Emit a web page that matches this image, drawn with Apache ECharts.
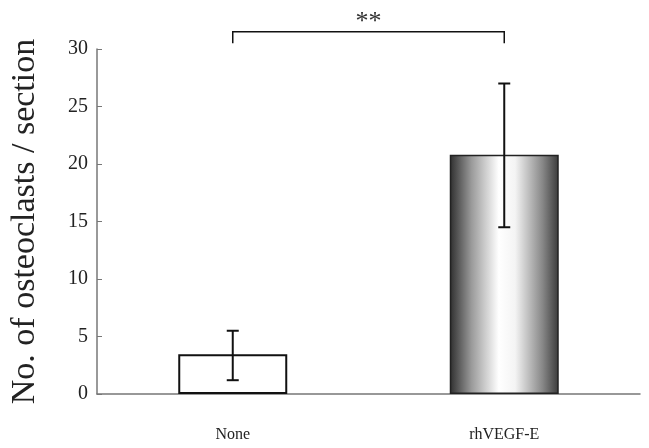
<!DOCTYPE html>
<html><head><meta charset="utf-8">
<script src="https://cdn.jsdelivr.net/npm/echarts@6/dist/echarts.min.js"></script>
<style>html,body{margin:0;padding:0;background:#fff}#c{width:649px;height:448px}</style>
</head><body><div id="c"></div>
<script>
const categories = ['None', 'rhVEGF-E'];
const means = [3.45, 20.8];
const errLow = [1.2, 14.5];
const errHigh = [5.5, 27.0];
const yTicks = [0, 5, 10, 15, 20, 25, 30];
const bracketY = 31.5;
const bracketDrop = 1.0;
const sigLabel = '**';

const chart = echarts.init(document.getElementById('c'));
const serif = '"Liberation Serif", "DejaVu Serif", serif';
const errData = categories.map((c, i) => [i, errLow[i], errHigh[i]]);

chart.setOption({
  animation: false,
  backgroundColor: '#fff',
  grid: { left: 97, right: 9, top: 49, bottom: 54 },
  xAxis: {
    type: 'category', data: categories,
    axisLine: { lineStyle: { color: '#777', width: 1.5 } },
    axisTick: { show: false },
    axisLabel: { fontFamily: serif, fontSize: 16, color: '#222', margin: 33 }
  },
  yAxis: {
    type: 'value', min: yTicks[0], max: yTicks[yTicks.length - 1], interval: 5,
    name: 'No. of osteoclasts / section', nameLocation: 'middle', nameGap: 55,
    nameTextStyle: { fontFamily: serif, fontSize: 34, color: '#222' },
    axisLine: { show: true, lineStyle: { color: '#777', width: 1.5 } },
    axisTick: { show: true, inside: true, length: 5, lineStyle: { color: '#777' } },
    splitLine: { show: false },
    axisLabel: { fontFamily: serif, fontSize: 20, color: '#222', margin: 9 }
  },
  series: [
    {
      type: 'bar', barWidth: 109,
      data: means.map((v, i) => ({
        value: v,
        itemStyle: i === 0 ? { color: '#fff', borderColor: '#111', borderWidth: 2 } : {
          color: new echarts.graphic.LinearGradient(0, 0, 1, 0, [
            { offset: 0, color: '#2e2e2e' },
            { offset: 0.2, color: '#9a9a9a' },
            { offset: 0.45, color: '#ffffff' },
            { offset: 0.6, color: '#f4f4f4' },
            { offset: 0.85, color: '#888' },
            { offset: 1, color: '#3a3a3a' }
          ]),
          borderColor: '#222', borderWidth: 1.5
        }
      }))
    },
    {
      type: 'custom', clip: false, z: 5,
      data: errData,
      renderItem: (params, api) => {
        const lo = api.coord([api.value(0), api.value(1)]);
        const hi = api.coord([api.value(0), api.value(2)]);
        const w = 6;
        const st = { stroke: '#111', lineWidth: 2 };
        return { type: 'group', children: [
          { type: 'line', shape: { x1: hi[0], y1: hi[1], x2: lo[0], y2: lo[1] }, style: st },
          { type: 'line', shape: { x1: hi[0] - w, y1: hi[1], x2: hi[0] + w, y2: hi[1] }, style: st },
          { type: 'line', shape: { x1: lo[0] - w, y1: lo[1], x2: lo[0] + w, y2: lo[1] }, style: st }
        ]};
      }
    },
    {
      type: 'custom', clip: false, z: 5,
      data: [[0, 1, bracketY]],
      renderItem: (params, api) => {
        const a = api.coord([api.value(0), api.value(2)]);
        const b = api.coord([api.value(1), api.value(2)]);
        const a2 = api.coord([api.value(0), api.value(2) - bracketDrop]);
        const st = { stroke: '#111', lineWidth: 1.5, fill: null };
        const dy = a2[1] - a[1];
        return { type: 'group', children: [
          { type: 'polyline', shape: { points: [[a[0], a[1] + dy], [a[0], a[1]], [b[0], b[1]], [b[0], b[1] + dy]] }, style: st },
          { type: 'text', style: { text: sigLabel, x: (a[0] + b[0]) / 2, y: a[1] + 3, textAlign: 'center', textVerticalAlign: 'bottom', fontFamily: serif, fontSize: 26, fill: '#333' } }
        ]};
      }
    }
  ]
});
</script></body></html>
